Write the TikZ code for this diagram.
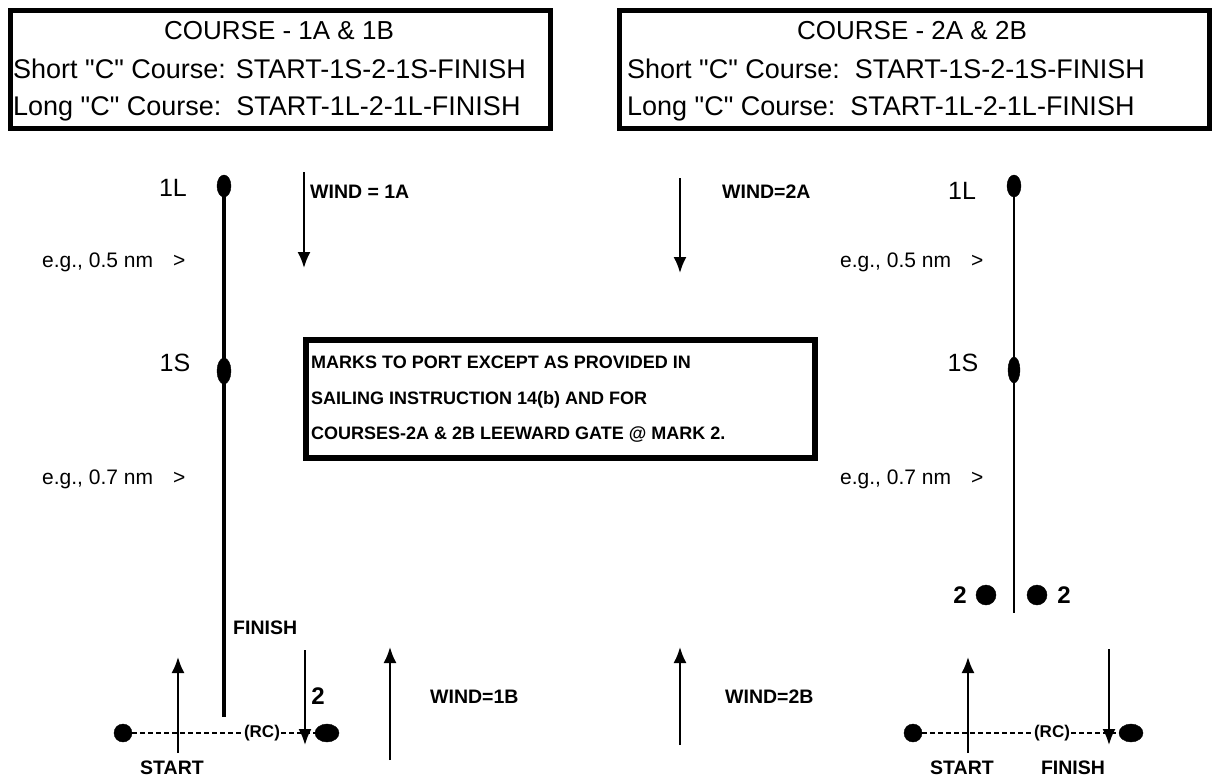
\documentclass[tikz,border=0pt]{standalone}
\usepackage{fontspec}
\setmainfont{Liberation Sans}
\usetikzlibrary{arrows.meta,shapes.geometric}

\begin{document}
\begin{tikzpicture}[
    x=1pt, y=-1pt,
    >={Latex[length=16pt,width=13pt]},
    coursebox/.style={draw, line width=5pt, inner sep=0pt, minimum height=118pt},
    headtxt/.style={font=\fontsize{27}{30}\selectfont, inner sep=0pt, anchor=base west},
    lbl/.style={font=\bfseries\fontsize{18}{20}\selectfont, inner sep=0pt, anchor=base west},
    windtxt/.style={lbl, font=\bfseries\fontsize{19.5}{22}\selectfont},
    marktxt/.style={font=\fontsize{25}{28}\selectfont, inner sep=0pt, anchor=base},
    dist/.style={font=\fontsize{21}{24}\selectfont, inner sep=0pt, anchor=base west},
    buoy/.style={draw, fill=black, ellipse, inner sep=0pt, minimum width=14pt, minimum height=22pt},
    roundbuoy/.style={draw, fill=black, circle, inner sep=0pt, minimum size=18pt},
    wind/.style={->, line width=2pt},
    startline/.style={line width=1.5pt, dash pattern=on 5pt off 3pt}
]

    \useasboundingbox (0,0) rectangle (1219,776);

    % Course boxes
    \node[coursebox, minimum width=540pt] (box1) at (280.5,69.5) {};
    \node[headtxt, anchor=base, font=\fontsize{26}{30}\selectfont] (title1) at (279,40) {COURSE - 1A \& 1B};
    \node[headtxt] (short1) at (13,78) {Short \textquotedbl C\textquotedbl{} Course: START-1S-2-1S-FINISH};
    \node[headtxt] (long1) at (13,116) {Long \textquotedbl C\textquotedbl{} Course:\ \ START-1L-2-1L-FINISH};

    \node[coursebox, minimum width=590pt] (box2) at (914.5,69.5) {};
    \node[headtxt, anchor=base, font=\fontsize{26}{30}\selectfont] (title2) at (912,40) {COURSE - 2A \& 2B};
    \node[headtxt] (short2) at (627,78) {Short \textquotedbl C\textquotedbl{} Course:\ \ START-1S-2-1S-FINISH};
    \node[headtxt] (long2) at (627,116) {Long \textquotedbl C\textquotedbl{} Course:\ \ START-1L-2-1L-FINISH};

    % Note box
    \node[draw, line width=6pt, inner sep=0pt, minimum width=509pt, minimum height=118pt] (note) at (560.5,399) {};
    \node[lbl] (note1) at (311,368) {MARKS TO PORT EXCEPT AS PROVIDED IN};
    \node[lbl] (note2) at (311,404) {SAILING INSTRUCTION 14(b) AND FOR};
    \node[lbl] (note3) at (311,439) {COURSES-2A \& 2B LEEWARD GATE @ MARK 2.};

    % Course 1 - marks
    \coordinate (bot1) at (224,717);
    \node[buoy] (m1L) at (224,186) {};
    \node[buoy, minimum height=26pt] (m1S) at (224,371) {};
    \draw[line width=4pt] (m1L.center) -- (bot1);
    \node[marktxt] (t1L) at (173,196) {1L};
    \node[marktxt] (t1S) at (175,371) {1S};
    \node[dist] (d1a) at (42,267) {e.g., 0.5 nm\hspace{20pt}>};
    \node[dist] (d1b) at (42,484) {e.g., 0.7 nm\hspace{20pt}>};

    % Course 2 - marks
    \coordinate (bot2) at (1014,613);
    \node[buoy] (m2L) at (1014,186) {};
    \node[buoy, minimum width=12pt, minimum height=26pt] (m2S) at (1014,370) {};
    \draw[line width=2.5pt] (m2L.center) -- (bot2);
    \node[marktxt] (t2L) at (962,199) {1L};
    \node[marktxt] (t2S) at (963,371) {1S};
    \node[dist] (d2a) at (840,267) {e.g., 0.5 nm\hspace{20pt}>};
    \node[dist] (d2b) at (840,484) {e.g., 0.7 nm\hspace{20pt}>};

    % Leeward gate
    \node[roundbuoy, minimum size=20pt] (g2a) at (986,595) {};
    \node[roundbuoy, minimum size=20pt] (g2b) at (1037,595) {};
    \node[marktxt, font=\bfseries\fontsize{24}{26}\selectfont] (tg2a) at (960,603) {2};
    \node[marktxt, font=\bfseries\fontsize{24}{26}\selectfont] (tg2b) at (1064,603) {2};

    % Wind arrows
    \coordinate (w1a) at (304,172);  \coordinate (w1b) at (304,268);
    \coordinate (w2a) at (680,178);  \coordinate (w2b) at (680,273);
    \coordinate (w3a) at (390,760);  \coordinate (w3b) at (390,647);
    \coordinate (w4a) at (680,745);  \coordinate (w4b) at (680,647);
    \draw[wind] (w1a) -- (w1b);
    \draw[wind] (w2a) -- (w2b);
    \draw[wind] (w3a) -- (w3b);
    \draw[wind] (w4a) -- (w4b);
    \node[windtxt] (wt1) at (310,198) {WIND = 1A};
    \node[windtxt] (wt2) at (722,198) {WIND=2A};
    \node[windtxt] (wt3) at (430,703) {WIND=1B};
    \node[windtxt] (wt4) at (725,703) {WIND=2B};

    % Start line - course 1
    \node[roundbuoy] (pin1) at (123,733) {};
    \node[buoy, minimum width=24pt, minimum height=18pt] (rcb1) at (327,733) {};
    \node[lbl, anchor=center, font=\bfseries\fontsize{17}{19}\selectfont, inner sep=1pt] (rc1) at (262,733) {(RC)};
    \draw[startline] (pin1) -- (rc1) -- (rcb1);
    \coordinate (s1a) at (178,753);  \coordinate (s1b) at (178,657);
    \coordinate (f1a) at (305,650);  \coordinate (f1b) at (305,745);
    \draw[wind] (s1a) -- (s1b);
    \draw[wind] (f1a) -- (f1b);
    \node[windtxt, anchor=base] (st1) at (172,774) {START};
    \node[windtxt] (fi1) at (233,634) {FINISH};
    \node[marktxt, font=\bfseries\fontsize{24}{26}\selectfont] (two1) at (318,704) {2};

    % Start line - course 2
    \node[roundbuoy] (pin2) at (913,733) {};
    \node[buoy, minimum width=24pt, minimum height=18pt] (rcb2) at (1131,733) {};
    \node[lbl, anchor=center, font=\bfseries\fontsize{17}{19}\selectfont, inner sep=1pt] (rc2) at (1052,733) {(RC)};
    \draw[startline] (pin2) -- (rc2) -- (rcb2);
    \coordinate (s2a) at (968,753);  \coordinate (s2b) at (968,657);
    \coordinate (f2a) at (1109,649); \coordinate (f2b) at (1109,745);
    \draw[wind] (s2a) -- (s2b);
    \draw[wind] (f2a) -- (f2b);
    \node[windtxt, anchor=base] (st2) at (962,774) {START};
    \node[windtxt, anchor=base] (fi2) at (1073,774) {FINISH};

\end{tikzpicture}
\end{document}
